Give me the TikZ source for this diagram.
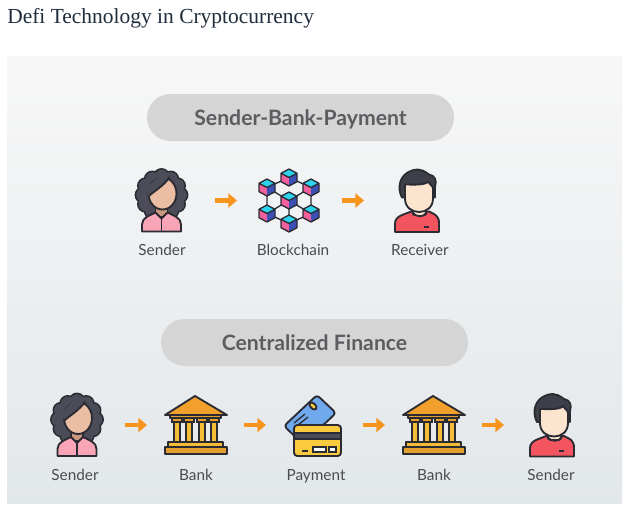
\documentclass[tikz,border=0pt]{standalone}
\usepackage{fontspec}
\setmainfont{Lato}
\newfontfamily\titlefont{Liberation Serif}
\usetikzlibrary{arrows.meta}
\definecolor{ink}{HTML}{2B2B33}
\definecolor{hairw}{HTML}{4C4C58}
\definecolor{skinw}{HTML}{EBBDA3}
\definecolor{neckw}{HTML}{C9997F}
\definecolor{pinkb}{HTML}{F9A5B8}
\definecolor{skinm}{HTML}{FDE4CF}
\definecolor{redb}{HTML}{F2555F}
\definecolor{cubec}{HTML}{2DD3EC}
\definecolor{cubep}{HTML}{F0609C}
\definecolor{cubeb}{HTML}{3B4FB5}
\definecolor{roof}{HTML}{F2A02C}
\definecolor{gold}{HTML}{F6BC35}
\definecolor{bronze}{HTML}{E3A02E}
\definecolor{cardb}{HTML}{70A9EE}
\definecolor{cardy}{HTML}{FBCB3F}
\definecolor{arrowo}{HTML}{F7941E}
\definecolor{pillg}{HTML}{D5D5D5}
\definecolor{txt}{HTML}{4A4B4F}
\definecolor{titlec}{HTML}{1F2D3D}
\tikzset{
  iconline/.style={draw=ink,line width=1.4pt,line join=round},
  iconbox/.style={inner sep=0pt,outer sep=0pt},
  pill/.style={fill=pillg,rounded corners=17.6pt,minimum width=230.25pt,minimum height=35.25pt,inner sep=0pt,text height=11.5pt,text depth=0pt,font=\fontsize{15.9}{18}\selectfont\bfseries,text=txt!90!white},
  lbl/.style={inner sep=0pt,text height=8.2pt,text depth=0pt,font=\fontsize{11.5}{13}\selectfont,text=txt},
  flow/.style={draw=arrowo,line width=3.2pt,-{Triangle[length=6.5pt,width=10.5pt]}},
  woman/.pic={
    \foreach \a in {0,30,...,330}
      \draw[iconline,fill=hairw] (\a:18.5) ++(0,-5.5) circle[radius=7.5];
    \foreach \a in {0,30,...,330}
      \fill[hairw] (\a:18.5) ++(0,-5.5) circle[radius=6.8];
    \fill[hairw] (0,-5.5) circle[radius=20];
    \fill[neckw,draw=ink,line width=1.4pt] (-6,2) rectangle (6,16);
    \draw[iconline,fill=pinkb] (-19.5,31) -- (-19.5,24) .. controls (-19.5,17) and (-12,15) .. (-6,12) -- (0,18) -- (6,12) .. controls (12,15) and (19.5,17) .. (19.5,24) -- (19.5,31) -- cycle;
    \draw[iconline] (0,18) -- (0,31);
    \draw[iconline,fill=skinw] (1,-7) ellipse[x radius=14,y radius=16];
    \fill[hairw] (-13,-4) .. controls (-8,-9) and (3,-15) .. (8,-23.5) -- (-2,-26) -- (-15,-12) -- cycle;
    \draw[iconline] (-12.5,-4.5) .. controls (-8,-9) and (3,-15) .. (8,-23.5);
  },
  man/.pic={
    \draw[iconline,fill=redb] (-22,31.5) -- (-22,23) .. controls (-22,15) and (-12,14) .. (-6,11) -- (12,11) .. controls (18,14) and (22,15) .. (22,23) -- (22,31.5) -- cycle;
    \draw[iconline,fill=skinm] (-4,5) rectangle (9,15);
    \fill[redb] (-6,13.5) .. controls (0,18) and (6,18) .. (11,13.5) -- (16,16) -- (-10,16) -- cycle;
    \draw[iconline] (-5,12) .. controls (0,17) and (6,17) .. (10,12);
    \draw[iconline,fill=hairw!60!ink] (-15,-3) .. controls (-20,-12) and (-18,-26) .. (-5,-30) .. controls (4,-33) and (9,-28) .. (12,-26) .. controls (18,-25) and (20,-20) .. (18,-14) -- (18,-3) -- cycle;
    \draw[iconline,fill=skinm] (-12,-16) .. controls (-4,-16) and (8,-15) .. (11,-19) .. controls (13,-16) and (16,-14) .. (16,-12) -- (16,-2) .. controls (16,7) and (9,11.5) .. (2,11.5) .. controls (-5,11.5) and (-12,7) .. (-12,-2) -- cycle;
    \fill[ink] (6.5,25) rectangle (11.5,27);
  },
  cube/.pic={
    \fill[cubec] (0,-8.5) -- (8,-4.2) -- (0,0) -- (-8,-4.2) -- cycle;
    \fill[cubep] (-8,-4.2) -- (0,0) -- (0,8.5) -- (-8,4.2) -- cycle;
    \fill[cubeb] (8,-4.2) -- (0,0) -- (0,8.5) -- (8,4.2) -- cycle;
    \draw[ink,line width=1pt,line join=round] (0,-8.5) -- (8,-4.2) -- (8,4.2) -- (0,8.5) -- (-8,4.2) -- (-8,-4.2) -- cycle (-8,-4.2) -- (0,0) -- (8,-4.2);
  },
  chain/.pic={
    \draw[ink,line width=1pt] (0,-23) -- (-22,-13) -- (0,0) -- (22,-13) -- cycle
      (-22,-13) -- (-22,13) -- (0,0) -- (22,13) -- (22,-13)
      (-22,13) -- (0,23) -- (22,13) (0,0) -- (0,23);
    \foreach \x/\y in {0/-23,-22/-13,22/-13,0/0,-22/13,22/13,0/23}
      \pic at (\x,\y) {cube};
  },
  temple/.pic={
    \foreach \x in {-19,-7,6,18} {
      \draw[ink,line width=1.1pt,fill=gold] (\x-3.2,-5) rectangle (\x+3.2,17);
      \draw[ink,line width=1pt,fill=bronze] (\x-5,-7) rectangle (\x+5,-3);
    }
    \draw[iconline,fill=bronze] (-26,-10) rectangle (25,-7);
    \draw[iconline,fill=roof] (-1,-29) -- (31,-10) -- (-31,-10) -- cycle;
    \draw[iconline,fill=gold] (-28,17) rectangle (27,22);
    \draw[iconline,fill=bronze] (-31,22) rectangle (31,29);
  },
  cards/.pic={
    \draw[iconline,fill=cardb,rounded corners=2.5pt] (1,-30) -- (20,-12) -- (-13,19) -- (-32,1) -- cycle;
    \draw[iconline,fill=cardy,rotate around={-45:(-3,-19)}] (-3,-19) ellipse[x radius=4.2,y radius=2.6];
    \draw[ink,line width=1pt] (-22,-2) -- (-11,-11) (-18,0) -- (-8,-8);
    \draw[iconline,fill=cardy,rounded corners=2.5pt] (-22,0) rectangle (25,31);
    \draw[ink,line width=1pt,fill=hairw] (-22,8) rectangle (25,14);
    \draw[ink,line width=1.2pt] (-14,26) -- (-8,26);
    \draw[ink,line width=1pt,fill=white] (-3,22) rectangle (10,27);
    \draw[ink,line width=1pt,fill=white] (13,22) rectangle (20,27);
  }
}
\begin{document}
\begin{tikzpicture}[x=0.75pt,y=-0.75pt]
\useasboundingbox (0,0) rectangle (627,507);
\fill[white] (0,0) rectangle (627,507);
\shade[top color=black!3,bottom color={rgb,255:red,226;green,231;blue,234},shading angle=0] (7,56) rectangle (622,503);
\node[anchor=west,inner sep=0pt,font=\titlefont\fontsize{16.1}{18}\selectfont,text=titlec] (title) at (7,18.5) {Defi Technology in Cryptocurrency};
\node[pill] (head1) at (300.5,117.5) {Sender-Bank-Payment};
\node[pill] (head2) at (314.5,342.5) {Centralized Finance};
% top row
\node[iconbox,minimum width=39pt,minimum height=47pt] (s1) at (161.5,200.5) {};
\node[iconbox,minimum width=42pt,minimum height=47pt] (c1) at (289,200.5) {};
\node[iconbox,minimum width=33pt,minimum height=47pt] (r1) at (417,200.5) {};
\pic at (s1) {woman};
\pic at (c1) {chain};
\pic at (r1) {man};
\node[lbl] (ls1) at (162,250) {Sender};
\node[lbl] (lc1) at (293,250) {Blockchain};
\node[lbl] (lr1) at (420,250) {Receiver};
\draw[flow,shorten <=20.6pt,shorten >=18pt] (s1.east) -- (c1.west);
\draw[flow,shorten <=18.75pt,shorten >=23.25pt] (c1.east) -- (r1.west);
% bottom row
\node[iconbox,minimum width=39pt,minimum height=47pt] (s2) at (77,425) {};
\node[iconbox,minimum width=46.5pt,minimum height=44pt] (b2) at (196,425) {};
\node[iconbox,minimum width=43pt,minimum height=46pt] (p2) at (316,425) {};
\node[iconbox,minimum width=46.5pt,minimum height=44pt] (b3) at (434,425) {};
\node[iconbox,minimum width=33pt,minimum height=47pt] (r2) at (552,425) {};
\pic at (s2) {woman};
\pic at (b2) {temple};
\pic at (p2) {cards};
\pic at (b3) {temple};
\pic at (r2) {man};
\node[lbl] (ls2) at (75,475) {Sender};
\node[lbl] (lb2) at (196,475) {Bank};
\node[lbl] (lp2) at (316,475) {Payment};
\node[lbl] (lb3) at (434,475) {Bank};
\node[lbl] (lr2) at (551,475) {Sender};
\draw[flow,shorten <=16.5pt,shorten >=13.5pt] (s2.east) -- (b2.west);
\draw[flow,shorten <=12.75pt,shorten >=16pt] (b2.east) -- (p2.west);
\draw[flow,shorten <=13.75pt,shorten >=13.5pt] (p2.east) -- (b3.west);
\draw[flow,shorten <=12.75pt,shorten >=19.5pt] (b3.east) -- (r2.west);
\end{tikzpicture}
\end{document}
